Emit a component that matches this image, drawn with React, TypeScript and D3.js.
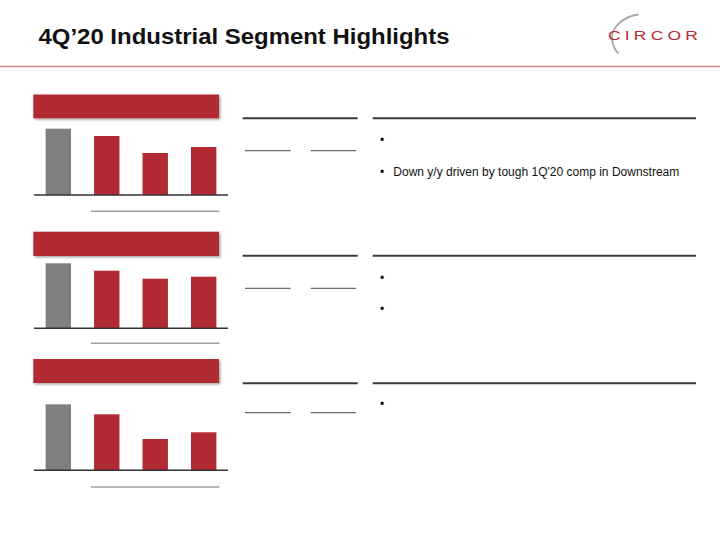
import React from "react";
import * as d3 from "d3";

const categories = ["4Q'19", "1Q'20", "2Q'20", "3Q'20"];
const ordersValues = [66.3, 59, 42, 48];
const revenueValues = [65, 57.6, 49.6, 51.6];
const marginValues = [66, 56, 31.3, 38];
const bulletTexts1 = ["", "Down y/y driven by tough 1Q'20 comp in Downstream"];
const bulletTexts2 = ["", ""];
const bulletTexts3 = [""];

const RED = "#b22a33";
const GRAY = "#7f7f7f";

const panels = [
  { values: ordersValues, bullets: bulletTexts1, headTop: 94.5, headBot: 118.3, base: 195, under: 211.3, rule: 118.3, shortRule: 150.7, bulletY: [140, 172] },
  { values: revenueValues, bullets: bulletTexts2, headTop: 231.7, headBot: 256, base: 328.3, under: 343.3, rule: 255.7, shortRule: 288.3, bulletY: [277.7, 309.3] },
  { values: marginValues, bullets: bulletTexts3, headTop: 359, headBot: 383, base: 470.3, under: 487, rule: 383.3, shortRule: 412.7, bulletY: [404.3] },
];

export default function App() {
  const x = d3.scaleBand<string>().domain(categories).range([34, 228]).paddingInner(0.476).paddingOuter(0.24);
  return (
    <svg width={720} height={540} style={{ position: "absolute", left: 0, top: 0, background: "#fff" }} fontFamily="'Liberation Sans', Arial, sans-serif">
      <defs>
        <filter id="sh" x="-10%" y="-30%" width="120%" height="180%">
          <feDropShadow dx="1.5" dy="1.5" stdDeviation="1" floodColor="#000" floodOpacity="0.35" />
        </filter>
      </defs>
      <rect x={0} y={0} width={720} height={540} fill="#fff" />
      <text x={38.5} y={43.5} fontSize={22} fontWeight="bold" fill="#111" textLength={411} lengthAdjust="spacingAndGlyphs">4Q’20 Industrial Segment Highlights</text>
      <line x1={0} x2={720} y1={66.5} y2={66.5} stroke="#e08585" strokeWidth={1.5} />
      {/* logo */}
      <path d="M638 14.5 C 622 17, 611 28, 612 40 C 613 46, 615 50, 618 53" fill="none" stroke="#a8a8a8" strokeWidth={1.8} strokeLinecap="round" />
      <text x={608} y={40} fontSize={12.5} fill={RED} letterSpacing={3} textLength={94} lengthAdjust="spacingAndGlyphs">CIRCOR</text>
      {panels.map((p, i) => {
        const y = d3.scaleLinear().domain([0, 100]).range([p.base, p.base - 100]);
        return (
          <g key={i}>
            <rect x={33.3} y={p.headTop} width={185.7} height={p.headBot - p.headTop} fill={RED} filter="url(#sh)" />
            {p.values.map((v, j) => (
              <rect key={j} x={x(categories[j])} y={y(v)} width={x.bandwidth()} height={y(0) - y(v)} fill={j === 0 ? GRAY : RED} />
            ))}
            <line x1={34} x2={228} y1={p.base} y2={p.base} stroke="#333" strokeWidth={1.5} />
            <line x1={91} x2={219.3} y1={p.under} y2={p.under} stroke="#a0a0a0" strokeWidth={1.5} />
            <line x1={242.7} x2={357.7} y1={p.rule} y2={p.rule} stroke="#3a3a3a" strokeWidth={2} />
            <line x1={372.7} x2={696} y1={p.rule} y2={p.rule} stroke="#3a3a3a" strokeWidth={2} />
            <line x1={245} x2={290.7} y1={p.shortRule} y2={p.shortRule} stroke="#6a6a6a" strokeWidth={1.3} />
            <line x1={310.7} x2={356} y1={p.shortRule} y2={p.shortRule} stroke="#6a6a6a" strokeWidth={1.3} />
            {p.bulletY.map((by, k) => (
              <g key={k}>
                <text x={380} y={by + 4} fontSize={12} fill="#111">•</text>
                {p.bullets[k] ? (
                  <text x={393.3} y={by + 4} fontSize={12} fill="#111" textLength={286} lengthAdjust="spacingAndGlyphs">{p.bullets[k]}</text>
                ) : null}
              </g>
            ))}
          </g>
        );
      })}
    </svg>
  );
}
